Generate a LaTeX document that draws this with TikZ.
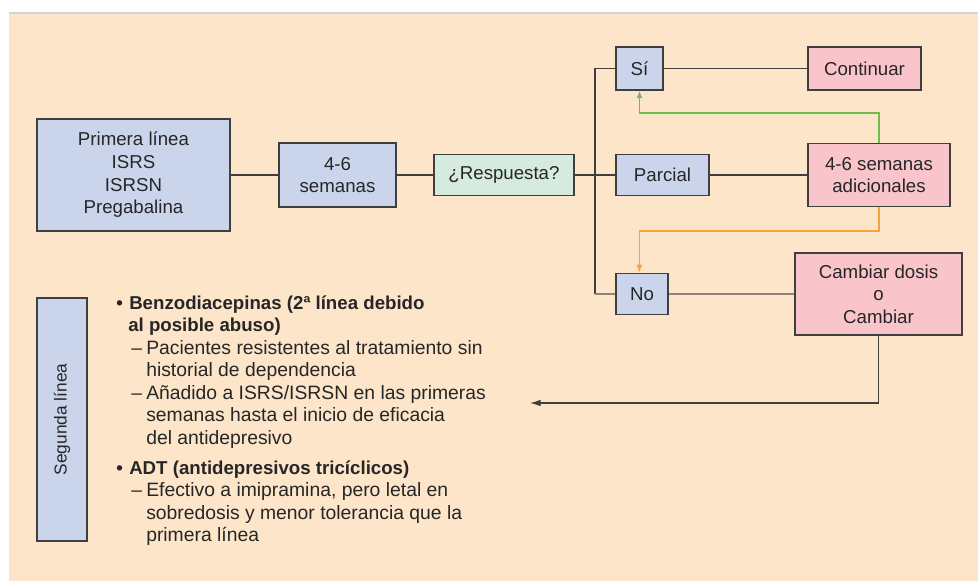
\documentclass[tikz,border=0pt]{standalone}
\usepackage{fontspec}
\setmainfont{Liberation Sans}
\usetikzlibrary{arrows.meta,positioning}
\definecolor{myPeach}{HTML}{FDE5CA}
\definecolor{myRule}{HTML}{D4D4D4}
\definecolor{myBlue}{HTML}{CAD5EC}
\definecolor{myGreen}{HTML}{D4EBDD}
\definecolor{myPink}{HTML}{F9C5CB}
\definecolor{myLine}{HTML}{3F3F3F}
\definecolor{myLight}{HTML}{8E847A}
\definecolor{myText}{HTML}{262626}
\definecolor{myGreenArr}{HTML}{6DBE4B}
\definecolor{myOrange}{HTML}{F7A23B}

\begin{document}
\begin{tikzpicture}
[
x=0.75pt,y=-0.75pt,
box/.style={rectangle,draw=myLine,line width=1.2pt,text=myText,align=center,inner sep=2pt,font=\fontsize{14pt}{17pt}\selectfont},
treat/.style={box,fill=myBlue},
query/.style={box,fill=myGreen},
action/.style={box,fill=myPink},
conn/.style={myLine,line width=0.9pt},
light/.style={myLight,line width=0.8pt},
arr/.style={>={Latex[length=6pt,width=4.5pt]}, line width=0.9pt},
listline/.style={anchor=base west,inner sep=0pt,text=myText,font=\fontsize{14.5pt}{17pt}\selectfont},
listbold/.style={listline,font=\fontsize{14pt}{17pt}\selectfont\bfseries},
]
\useasboundingbox (0,0) rectangle (978,583);
\fill[white] (0,0) rectangle (978,583);
\fill[myPeach] (9,14) rectangle (978,581);
\fill[myRule] (9,12) rectangle (978,14);

% Nodes
\node[treat,minimum width=144.75pt,minimum height=84pt] (prim) at (133.5,175) {Primera línea\\ISRS\\ISRSN\\Pregabalina};
\node[treat,minimum width=87.75pt,minimum height=48pt] (sem) at (337.5,175) {4-6\\semanas};
\node[query,minimum width=105pt,minimum height=30.75pt] (resp) at (504,175) {¿Respuesta?};
\coordinate (split) at (595,175);
\node[treat,minimum width=35.25pt,minimum height=32.25pt] (si) at (639.5,68.5) {Sí};
\node[treat,minimum width=69.75pt,minimum height=30.75pt] (parc) at (662.5,175) {Parcial};
\node[treat,minimum width=39pt,minimum height=30.75pt] (no) at (642,294) {No};
\node[action,minimum width=84.75pt,minimum height=32.25pt] (cont) at (864.5,68.5) {Continuar};
\node[action,minimum width=106.5pt,minimum height=47.25pt] (adic) at (879,175) {4-6 semanas\\adicionales};
\node[action,minimum width=125.25pt,minimum height=61.5pt] (camb) at (878.5,294) {Cambiar dosis\\o\\Cambiar};
\node[treat,rotate=90,minimum width=182.25pt,minimum height=37.5pt,font=\fontsize{13pt}{15pt}\selectfont] (seg) at (62,419.5) {Segunda línea};
\coordinate (ret) at (530,403);

% Edges
\draw[conn] (prim) -- (sem);
\draw[conn] (sem) -- (resp);
\draw[conn] (resp) -- (parc);
\draw[conn] (si.west) -| (split);
\draw[conn] (split) -- (split |- no.west);
\draw[light] (split |- no.west) -- (no.west);
\draw[conn] (si) -- (cont);
\draw[conn] (parc) -- (adic);
\draw[light] (no) -- (camb);
\draw[arr,->,myGreenArr,>={Latex[length=5.5pt,width=4.5pt]}] (adic.north) -- (adic.north |- 0,113) -| (si.south);
\draw[arr,->,myOrange] (adic.south) -- (adic.south |- 0,231) -| ([xshift=-2pt]no.north);
\draw[arr,->,myLine,>={Latex[length=8pt,width=5pt]}] (camb.south) |- (ret);

% Second line list
\node[listbold] (b1) at (116,309) {•};
\node[listbold] (l1) at (129,309) {Benzodiacepinas (2ª línea debido};
\node[listbold] (l2) at (128,331.5) {al posible abuso)};
\node[listline] (d1) at (131,354) {–};
\node[listline] (l3) at (146,354) {Pacientes resistentes al tratamiento sin};
\node[listline] (l4) at (146,376.5) {historial de dependencia};
\node[listline] (d2) at (131,399) {–};
\node[listline] (l5) at (146,399) {Añadido a ISRS/ISRSN en las primeras};
\node[listline] (l6) at (146,421.5) {semanas hasta el inicio de eficacia};
\node[listline] (l7) at (146,444) {del antidepresivo};
\node[listbold] (b2) at (116,474) {•};
\node[listbold] (l8) at (129,474) {ADT (antidepresivos tricíclicos)};
\node[listline] (d3) at (131,496.5) {–};
\node[listline] (l9) at (146,496.5) {Efectivo a imipramina, pero letal en};
\node[listline] (l10) at (146,519) {sobredosis y menor tolerancia que la};
\node[listline] (l11) at (146,541.5) {primera línea};

\end{tikzpicture}
\end{document}
